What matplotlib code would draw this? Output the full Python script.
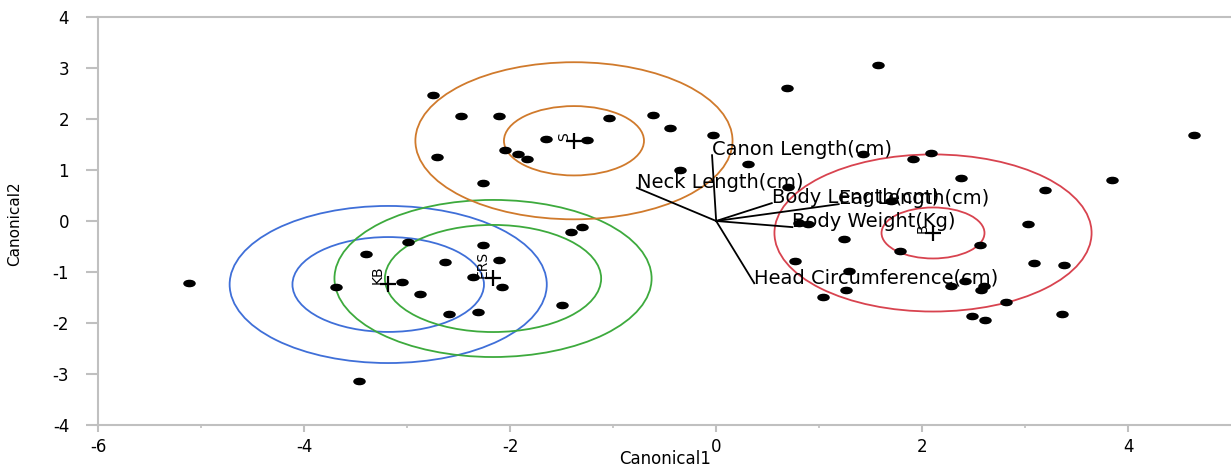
import numpy as np
import matplotlib
matplotlib.use('Agg')
import matplotlib.pyplot as plt
from matplotlib.patches import Ellipse
from matplotlib.path import Path

plt.rcParams['font.family'] = ['DejaVu Sans']
plt.rcParams['axes.unicode_minus'] = False

# 관측점 (Canonical1, Canonical2)
point_x = [-5.12, -3.69, -3.40, -2.99, -3.05, -2.88, -2.63, -2.59, -2.26, -2.11,
           -2.36, -2.08, -2.31, -1.50, -1.41, -1.30, -3.47,
           -2.75, -2.48, -2.11, -1.65, -1.25, -1.04, -0.61, -0.45, -0.03, -2.71,
           -2.05, -1.92, -1.84, -2.26, -0.35, 0.31, 0.69, 0.70,
           1.57, 4.64, 1.43, 2.09, 1.91, 2.38, 3.84, 3.19, 1.70, 0.80,
           0.89, 3.03, 1.24, 2.56, 1.79, 0.77, 3.09, 3.38, 1.29, 2.42,
           2.28, 2.60, 2.57, 1.26, 1.04, 2.81, 3.36, 2.48, 2.61]
point_y = [-1.22, -1.29, -0.65, -0.41, -1.20, -1.43, -0.80, -1.82, -0.47, -0.76,
           -1.10, -1.29, -1.78, -1.65, -0.22, -0.12, -3.14,
           2.47, 2.05, 2.05, 1.61, 1.58, 2.01, 2.08, 1.82, 1.69, 1.25,
           1.39, 1.31, 1.22, 0.75, 0.99, 1.11, 2.60, 0.67,
           3.05, 1.68, 1.31, 1.34, 1.22, 0.84, 0.80, 0.61, 0.40, -0.03,
           -0.06, -0.05, -0.35, -0.48, -0.59, -0.79, -0.82, -0.86, -0.99, -1.18,
           -1.27, -1.28, -1.35, -1.35, -1.50, -1.59, -1.82, -1.86, -1.94]

# 그룹 평균과 원
groups = ['KB', 'ERS', 'S', 'B']
center_x = [-3.185, -2.167, -1.381, 2.106]
center_y = [-1.245, -1.127, 1.573, -0.235]
inner_r = [0.93, 1.05, 0.68, 0.50]
outer_r = [1.54, 1.54, 1.54, 1.54]
group_colors = ['#3F6FD8', '#3DAA3D', '#D07A2C', '#D8434F']

# 변수 벡터
var_names = ['Canon Length(cm)', 'Neck Length(cm)', 'Body Length(cm)',
             'Ear Length(cm)', 'Body Weight(Kg)', 'Head Circumference(cm)']
var_x = [-0.04, -0.77, 0.54, 1.19, 0.74, 0.37]
var_y = [1.29, 0.65, 0.35, 0.33, -0.12, -1.22]

fig = plt.figure(figsize=(12.31, 4.69), dpi=100)
ax = fig.add_axes([0.0799, 0.0938, 0.9201, 0.870])

for cx, cy, ri, ro, c in zip(center_x, center_y, inner_r, outer_r, group_colors):
    for r in (ri, ro):
        ax.add_patch(Ellipse((cx, cy), 2 * r, 2 * r, fill=False, edgecolor=c, lw=1.3))

# 납작한 점 마커
circ = Path.unit_circle()
dot = Path(circ.vertices * np.array([1.8, 1.0]), circ.codes)
ax.plot(point_x, point_y, linestyle='none', marker=dot, markersize=8, color='black')

for vx, vy, name in zip(var_x, var_y, var_names):
    ax.plot([0, vx], [0, vy], color='black', lw=1.3)
    ax.text(vx, vy, name, fontsize=14, ha='left', va='baseline')

ax.plot(center_x, center_y, linestyle='none', marker='+', markersize=12,
        markeredgewidth=1.6, color='black')
for cx, cy, g in zip(center_x, center_y, groups):
    ax.text(cx - 0.03, cy, g, fontsize=10, rotation=90, ha='right', va='bottom')

ax.set_xlim(-6, 5)
ax.set_ylim(-4, 4)
ax.set_xticks([-6, -4, -2, 0, 2, 4])
ax.set_xticks([-5, -3, -1, 1, 3], minor=True)
ax.set_yticks(range(-4, 5))

for s in ['left', 'bottom', 'top']:
    ax.spines[s].set_color('#c0c0c0')
    ax.spines[s].set_linewidth(1.5)
ax.spines['right'].set_visible(False)
ax.tick_params(axis='x', which='major', length=5, width=1.5, color='#c0c0c0', labelsize=12, pad=4)
ax.tick_params(axis='x', which='minor', length=2.5, width=1.2, color='#c0c0c0')
ax.tick_params(axis='y', length=9, width=1.5, color='#c0c0c0', labelsize=12, pad=12)

ax.set_xlabel('Canonical1', fontsize=12)
ax.xaxis.set_label_coords(0.5, -0.062)
ax.set_ylabel('Canonical2', fontsize=11)
ax.yaxis.set_label_coords(-0.0674, 0.493)

fig.savefig('out.png', dpi=100)
